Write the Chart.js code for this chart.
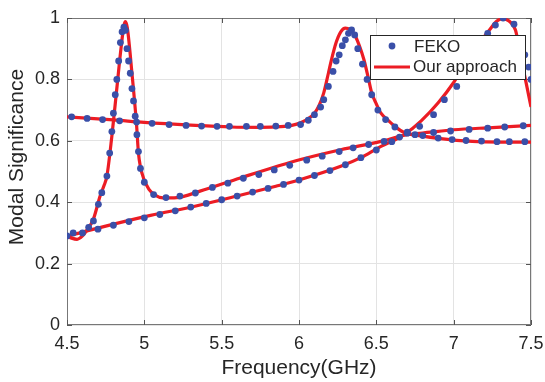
<!DOCTYPE html>
<html><head><meta charset="utf-8">
<script src="https://cdn.jsdelivr.net/npm/chart.js@4.4.1/dist/chart.umd.min.js"></script>
<style>html,body{margin:0;padding:0;background:#fff}canvas{display:block}</style>
</head><body>
<canvas id="c" width="545" height="382"></canvas>
<script>
// ---- tick labels ----
const xTickValues = [4.5, 5, 5.5, 6, 6.5, 7, 7.5];
const yTickValues = [0, 0.2, 0.4, 0.6, 0.8, 1];

// ---- "Our approach" curves (frequency GHz, modal significance) ----
const ourFreq1 = [4.50,4.53,4.565,4.60,4.63,4.67,4.714,4.74,4.758,4.79,4.82,4.85,4.868,4.878,4.89,4.92,4.95,4.962,4.975,4.995,5.03,5.07,5.12,5.21,5.36,5.62,6.01,6.27,6.53,6.68,6.85,7.0,7.25,7.5];
const ourMs1   = [0.29,0.283,0.279,0.29,0.31,0.344,0.42,0.455,0.485,0.615,0.76,0.905,0.975,0.988,0.968,0.82,0.65,0.56,0.515,0.478,0.442,0.423,0.414,0.415,0.436,0.479,0.539,0.571,0.598,0.618,0.628,0.636,0.643,0.65];

const ourFreq2 = [4.5,4.8,5.0,5.3,5.56,5.75,5.88,5.96,6.01,6.06,6.1,6.13,6.16,6.19,6.21,6.24,6.27,6.30,6.33,6.36,6.39,6.42,6.45,6.47,6.50,6.53,6.58,6.63,6.68,6.8,6.9,7.12,7.3,7.5];
const ourMs2   = [0.678,0.668,0.66,0.651,0.645,0.644,0.646,0.651,0.659,0.672,0.69,0.715,0.756,0.82,0.864,0.92,0.955,0.967,0.962,0.945,0.91,0.864,0.80,0.756,0.72,0.69,0.665,0.643,0.627,0.615,0.608,0.598,0.596,0.596];

const ourFreq3 = [4.5,4.75,5.04,5.32,5.6,5.85,6.01,6.27,6.4,6.53,6.6,6.68,6.79,6.9,7.0,7.12,7.23,7.28,7.31,7.34,7.37,7.40,7.43,7.46,7.5];
const ourMs3   = [0.289,0.322,0.357,0.386,0.42,0.452,0.474,0.517,0.545,0.582,0.598,0.62,0.665,0.724,0.79,0.886,0.96,0.99,0.997,0.995,0.985,0.96,0.885,0.81,0.71];

// ---- FEKO samples ----
const fekoFreq1 = [4.54,4.64,4.671,4.703,4.725,4.758,4.776,4.79,4.80,4.812,4.822,4.834,4.845,4.856,4.868,4.878,4.888,4.898,4.909,4.92,4.93,4.941,4.952,4.962,4.975,5.0,5.06,5.14,5.23,5.33,5.44,5.54,5.64,5.74,5.84,5.94,6.05,6.15,6.26,6.35,6.45,6.55,6.65,6.75,6.87,6.98,7.1,7.22,7.33,7.45];
const fekoMs1   = [0.30,0.318,0.339,0.393,0.431,0.485,0.56,0.63,0.69,0.75,0.80,0.86,0.92,0.955,0.97,0.96,0.90,0.86,0.82,0.77,0.73,0.68,0.62,0.565,0.51,0.465,0.425,0.415,0.42,0.43,0.448,0.462,0.478,0.49,0.505,0.52,0.537,0.55,0.565,0.577,0.588,0.598,0.612,0.62,0.627,0.632,0.637,0.641,0.645,0.649];

const fekoFreq2 = [4.53,4.63,4.73,4.84,4.95,5.05,5.16,5.27,5.37,5.47,5.55,5.66,5.75,5.85,5.93,6.01,6.06,6.10,6.14,6.16,6.19,6.22,6.24,6.26,6.28,6.30,6.32,6.34,6.36,6.38,6.41,6.44,6.47,6.51,6.56,6.62,6.7,6.8,6.9,6.99,7.08,7.18,7.28,7.36,7.46];
const fekoMs2   = [0.678,0.673,0.669,0.665,0.661,0.657,0.653,0.65,0.648,0.647,0.647,0.647,0.647,0.648,0.65,0.653,0.667,0.685,0.71,0.734,0.777,0.826,0.86,0.88,0.91,0.929,0.95,0.961,0.945,0.90,0.85,0.80,0.75,0.70,0.669,0.645,0.628,0.617,0.609,0.604,0.601,0.599,0.597,0.597,0.597];

const fekoFreq3 = [4.5,4.6,4.7,4.8,4.9,5.0,5.1,5.2,5.3,5.4,5.5,5.6,5.7,5.8,5.9,6.0,6.1,6.2,6.3,6.4,6.5,6.6,6.7,6.78,6.87,6.94,7.02,7.1,7.16,7.22,7.27,7.32,7.39,7.43,7.46,7.485,7.5];
const fekoMs3   = [0.29,0.30,0.312,0.325,0.337,0.349,0.36,0.372,0.384,0.396,0.408,0.42,0.433,0.445,0.458,0.472,0.487,0.503,0.522,0.545,0.57,0.597,0.625,0.647,0.685,0.734,0.777,0.85,0.90,0.95,0.977,1.0,0.98,0.93,0.88,0.84,0.80];

const FONT = "'Liberation Sans', Arial, Helvetica, sans-serif";
const RED = '#ec1c24';
const BLUE = '#3a4fa8';
const TXT = '#262626';

const pts = (xs, ys) => xs.map((x, i) => ({x: x, y: ys[i]}));

function dotSet(xs, ys) {
  return {data: pts(xs, ys), showLine: false, pointRadius: 3.4, pointHoverRadius: 3.4,
    pointBackgroundColor: BLUE, pointBorderWidth: 0, backgroundColor: BLUE, borderColor: BLUE};
}
function lineSet(xs, ys) {
  return {data: pts(xs, ys), showLine: true, pointRadius: 0, borderColor: RED, borderWidth: 3.2,
    cubicInterpolationMode: 'monotone', fill: false};
}

const frame = {
  id: 'frame',
  beforeDatasetsDraw(chart) {
    const a = chart.chartArea, ctx = chart.ctx;
    const xs = chart.scales.x, ys = chart.scales.y;
    ctx.save();
    ctx.strokeStyle = '#777';
    ctx.lineWidth = 1;
    ctx.strokeRect(a.left + 0.5, a.top + 0.5, a.right - a.left - 1, a.bottom - a.top - 1);
    ctx.strokeStyle = '#555';
    ctx.beginPath();
    xTickValues.forEach(v => {
      const p = Math.round(xs.getPixelForValue(v)) + 0.5;
      ctx.moveTo(p, a.bottom); ctx.lineTo(p, a.bottom - 5);
      ctx.moveTo(p, a.top); ctx.lineTo(p, a.top + 5);
    });
    yTickValues.forEach(v => {
      const p = Math.round(ys.getPixelForValue(v)) + 0.5;
      ctx.moveTo(a.left, p); ctx.lineTo(a.left + 5, p);
      ctx.moveTo(a.right, p); ctx.lineTo(a.right - 5, p);
    });
    ctx.stroke();
    ctx.restore();
  },
  afterDraw(chart) {
    const ctx = chart.ctx;
    ctx.save();
    // y-axis title
    ctx.fillStyle = TXT;
    ctx.font = '21px ' + FONT;
    ctx.translate(17, 157);
    ctx.rotate(-Math.PI / 2);
    ctx.textAlign = 'center';
    ctx.textBaseline = 'middle';
    ctx.fillText('Modal Significance', 0, 0);
    ctx.restore();
    // legend
    ctx.save();
    ctx.fillStyle = '#fff';
    ctx.fillRect(370, 35, 155, 44);
    ctx.strokeStyle = '#262626';
    ctx.lineWidth = 1;
    ctx.strokeRect(370.5, 35.5, 155, 44);
    ctx.fillStyle = BLUE;
    ctx.beginPath(); ctx.arc(392, 46, 3.4, 0, Math.PI * 2); ctx.fill();
    ctx.strokeStyle = RED; ctx.lineWidth = 3.2;
    ctx.beginPath(); ctx.moveTo(374, 67); ctx.lineTo(410, 67); ctx.stroke();
    ctx.fillStyle = TXT;
    ctx.font = '17px ' + FONT;
    ctx.textAlign = 'left'; ctx.textBaseline = 'middle';
    ctx.fillText('FEKO', 414, 47);
    ctx.fillText('Our approach', 413, 67);
    ctx.restore();
  }
};

new Chart(document.getElementById('c'), {
  type: 'scatter',
  data: {
    datasets: [
      dotSet(fekoFreq1, fekoMs1), dotSet(fekoFreq2, fekoMs2), dotSet(fekoFreq3, fekoMs3),
      lineSet(ourFreq1, ourMs1), lineSet(ourFreq2, ourMs2), lineSet(ourFreq3, ourMs3)
    ]
  },
  options: {
    responsive: false, animation: false, devicePixelRatio: 1,
    layout: {padding: {top: 18, right: 14, left: 0, bottom: 0}},
    plugins: {legend: {display: false}, tooltip: {enabled: false}},
    scales: {
      x: {
        type: 'linear', min: 4.5, max: 7.5,
        afterBuildTicks: s => { s.ticks = xTickValues.map(v => ({value: v})); },
        afterFit: s => { s.height = 57; s.paddingRight = 0; s.paddingLeft = 0; },
        grid: {color: '#e3e3e3', drawTicks: false},
        border: {display: false},
        ticks: {padding: 8, color: TXT, font: {size: 18, family: FONT}, maxRotation: 0, autoSkip: false,
          callback: v => String(v)},
        title: {display: true, text: 'Frequency(GHz)', color: TXT, font: {size: 21, family: FONT}, padding: {top: 0, bottom: 1}}
      },
      y: {
        type: 'linear', min: 0, max: 1,
        afterBuildTicks: s => { s.ticks = yTickValues.map(v => ({value: v})); },
        afterFit: s => { s.width = 67; s.paddingTop = 0; s.paddingBottom = 0; },
        grid: {color: '#e3e3e3', drawTicks: false},
        border: {display: false},
        ticks: {padding: 7, color: TXT, font: {size: 18, family: FONT}, autoSkip: false,
          callback: v => String(v)}
      }
    }
  },
  plugins: [frame]
});
</script>
</body></html>
